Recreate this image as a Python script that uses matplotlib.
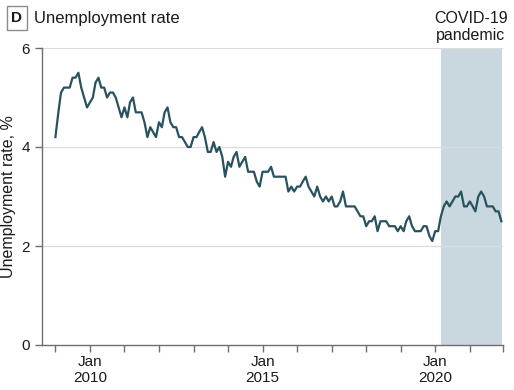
import pandas as pd
import matplotlib
matplotlib.use("Agg")
from matplotlib import pyplot as plt
import matplotlib.dates as mdates

plt.rcParams["font.family"] = ["Liberation Sans", "DejaVu Sans"]

# monthly unemployment rate, Jan 2009 - Dec 2021
rate_2009 = [4.2, 4.7, 5.1, 5.2, 5.2, 5.2, 5.4, 5.4, 5.5, 5.2, 5.0, 4.8]
rate_2010 = [4.9, 5.0, 5.3, 5.4, 5.2, 5.2, 5.0, 5.1, 5.1, 5.0, 4.8, 4.6]
rate_2011 = [4.8, 4.6, 4.9, 5.0, 4.7, 4.7, 4.7, 4.5, 4.2, 4.4, 4.3, 4.2]
rate_2012 = [4.5, 4.4, 4.7, 4.8, 4.5, 4.4, 4.4, 4.2, 4.2, 4.1, 4.0, 4.0]
rate_2013 = [4.2, 4.2, 4.3, 4.4, 4.2, 3.9, 3.9, 4.1, 3.9, 4.0, 3.8, 3.4]
rate_2014 = [3.7, 3.6, 3.8, 3.9, 3.6, 3.7, 3.8, 3.5, 3.5, 3.5, 3.3, 3.2]
rate_2015 = [3.5, 3.5, 3.5, 3.6, 3.4, 3.4, 3.4, 3.4, 3.4, 3.1, 3.2, 3.1]
rate_2016 = [3.2, 3.2, 3.3, 3.4, 3.2, 3.1, 3.0, 3.2, 3.0, 2.9, 3.0, 2.9]
rate_2017 = [3.0, 2.8, 2.8, 2.9, 3.1, 2.8, 2.8, 2.8, 2.8, 2.7, 2.6, 2.6]
rate_2018 = [2.4, 2.5, 2.5, 2.6, 2.3, 2.5, 2.5, 2.5, 2.4, 2.4, 2.4, 2.3]
rate_2019 = [2.4, 2.3, 2.5, 2.6, 2.4, 2.3, 2.3, 2.3, 2.4, 2.4, 2.2, 2.1]
rate_2020 = [2.3, 2.3, 2.6, 2.8, 2.9, 2.8, 2.9, 3.0, 3.0, 3.1, 2.8, 2.8]
rate_2021 = [2.9, 2.8, 2.7, 3.0, 3.1, 3.0, 2.8, 2.8, 2.8, 2.7, 2.7, 2.5]

rates = (rate_2009 + rate_2010 + rate_2011 + rate_2012 + rate_2013 + rate_2014
         + rate_2015 + rate_2016 + rate_2017 + rate_2018 + rate_2019 + rate_2020
         + rate_2021)
months = mdates.date2num(pd.date_range("2009-01-01", periods=len(rates), freq="MS"))

pandemic_start = mdates.date2num(pd.Timestamp("2020-03-01"))
pandemic_end = mdates.date2num(pd.Timestamp("2021-12-05"))
x_start = mdates.date2num(pd.Timestamp("2008-08-12"))
x_end = mdates.date2num(pd.Timestamp("2021-12-15"))
tick_years = list(range(2009, 2022))
labeled_years = [2010, 2015, 2020]

line_color = "#28525f"
shade_color = "#c9d8de"
axis_color = "#6e6e6e"
text_color = "#1a1a1a"

fig = plt.figure(figsize=(5.14, 3.9), dpi=100)
ax = fig.add_axes([42 / 514, 45 / 390, 460.7 / 514, 297 / 390])

ax.axvspan(pandemic_start, pandemic_end, color=shade_color, lw=0, zorder=0)
for y in [2, 4, 6]:
    ax.axhline(y, color="#dcdcdc", lw=0.9, zorder=0.5)
ax.plot(months, rates, color=line_color, lw=1.6, zorder=3)

ax.set_ylim(0, 6)
ax.set_yticks([0, 2, 4, 6])
ax.set_xlim(x_start, x_end)

ticks = [mdates.date2num(pd.Timestamp(f"{y}-01-01")) for y in tick_years] + [x_end]
labels = [f"Jan\n{y}" if y in labeled_years else "" for y in tick_years] + [""]
ax.set_xticks(ticks)
ax.set_xticklabels(labels)

ax.set_ylabel("Unemployment rate, %", fontsize=11.5, color=text_color, labelpad=4)
ax.tick_params(axis="both", colors=axis_color, labelcolor=text_color, labelsize=11,
               length=5, width=1)
ax.tick_params(axis="x", pad=2)
for s in ["top", "right"]:
    ax.spines[s].set_visible(False)
for s in ["left", "bottom"]:
    ax.spines[s].set_color(axis_color)
    ax.spines[s].set_linewidth(1)

fig.text(17 / 514, 1 - 18 / 390, "D", ha="center", va="center", fontsize=11,
         fontweight="bold", color=text_color,
         bbox=dict(boxstyle="square,pad=0.3", fc="white", ec="#8a8a8a", lw=1))
fig.text(34 / 514, 1 - 18 / 390, "Unemployment rate", ha="left", va="center",
         fontsize=12, color=text_color)
fig.text(471 / 514, 1 - 27 / 390, "COVID-19\npandemic", ha="center", va="center",
         fontsize=11.5, color=text_color, linespacing=1.2)

fig.savefig("out.png", dpi=100)
